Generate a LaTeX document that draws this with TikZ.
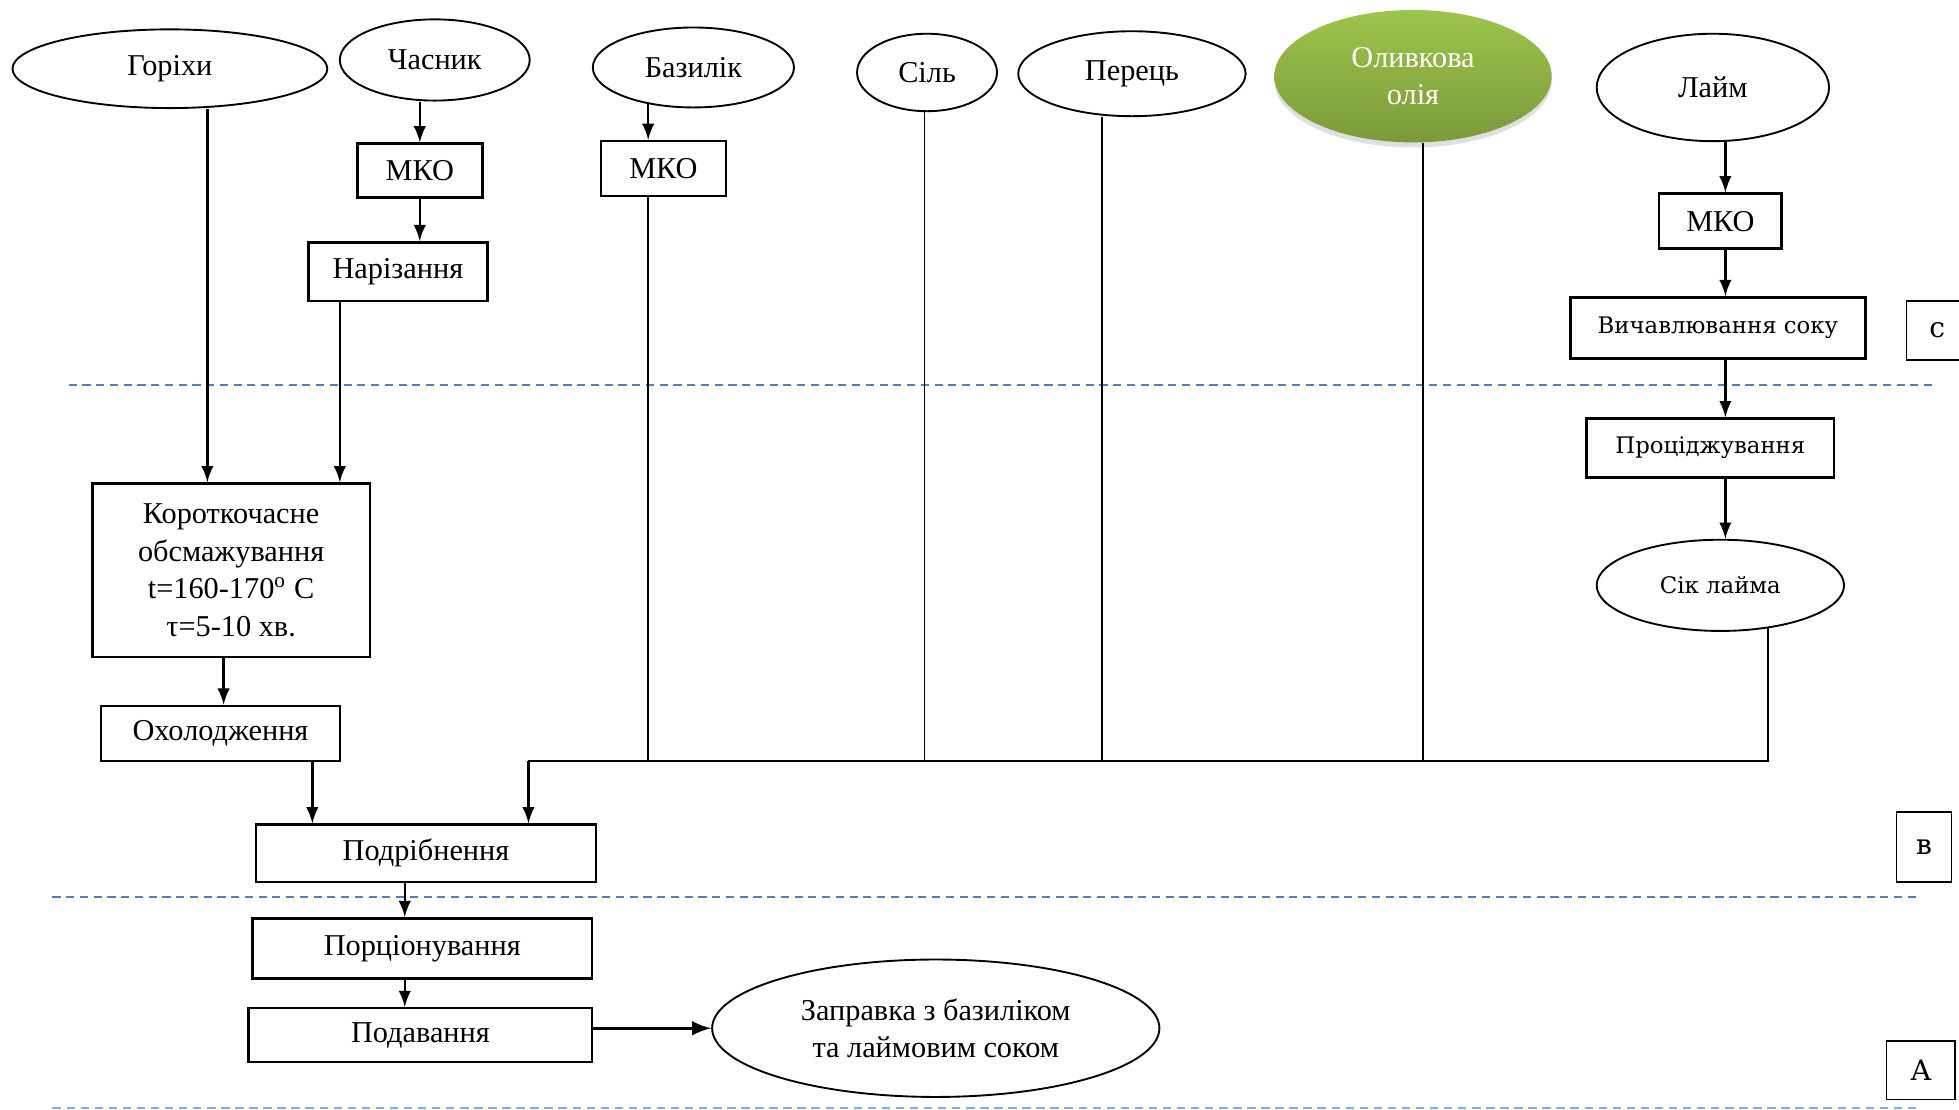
\documentclass[tikz,border=0pt]{standalone}
\usepackage{fontspec}
\setmainfont{Liberation Serif}
\newfontfamily\wideserif{DejaVu Serif}
\usepackage{tikz}
\usetikzlibrary{shapes,arrows,positioning,calc,shadows}
\usepackage{xcolor}
\definecolor{sepblue}{HTML}{4F81BD}
\definecolor{sepgray}{HTML}{8EA9D8}
\definecolor{oliveTop}{HTML}{9DC54B}
\definecolor{oliveBot}{HTML}{7A9A3A}

\begin{document}
\begin{tikzpicture}[x=0.4pt,y=0.4pt,
    font=\fontsize{9.7}{12}\selectfont,
    ingr/.style={draw, ellipse, line width=0.6pt, inner sep=0pt},
    proc/.style={draw, rectangle, line width=0.8pt, inner sep=0pt},
    widetxt/.style={font=\wideserif\fontsize{7.3}{9}\selectfont},
    tag/.style={draw, rectangle, line width=0.5pt, inner sep=0pt, font=\wideserif\fontsize{9}{11}\selectfont},
    arr/.style={-latex, line width=0.8pt},
    feed/.style={line width=0.5pt},
    sep/.style={sepblue, line width=0.6pt, dash pattern=on 2.6pt off 1.8pt}]
    \useasboundingbox (0,0) rectangle (1568,-888);

    % ingredients
    \node[ingr, minimum width=100.8pt, minimum height=25.2pt] (gorikhy) at (136,-55) {Горіхи};
    \node[ingr, minimum width=60.8pt, minimum height=26pt] (chasnyk) at (348,-48) {Часник};
    \node[ingr, minimum width=64.4pt, minimum height=25.6pt] (bazylik) at (555,-54) {Базилік};
    \node[ingr, minimum width=44.8pt, minimum height=24.8pt] (sil) at (742,-58) {Сіль};
    \node[ingr, minimum width=72.8pt, minimum height=27.2pt] (perets) at (906,-59) {Перець};
    \node[ingr, draw=none, minimum width=88.8pt, minimum height=42.4pt, align=center, text=white,
        top color=oliveTop, bottom color=oliveBot,
        drop shadow={shadow xshift=0pt, shadow yshift=-1.6pt, opacity=0.25}] (oliia) at (1131,-61) {Оливкова\\олія};
    \node[ingr, minimum width=74.4pt, minimum height=34.4pt] (laim) at (1371,-70) {Лайм};

    % upper part
    \node[proc, minimum width=40pt, minimum height=17.2pt] (mko1) at (336,-136.5) {МКО};
    \node[proc, minimum width=57.2pt, minimum height=18.8pt] (narizannia) at (318.5,-217.5) {Нарізання};
    \node[proc, minimum width=40pt, minimum height=17.6pt] (mko2) at (531,-135) {МКО};
    \node[proc, minimum width=39.2pt, minimum height=17.6pt] (mko3) at (1377,-177) {МКО};
    \node[proc, widetxt, minimum width=94.4pt, minimum height=19.6pt] (vychavl) at (1375,-262.5) {Вичавлювання соку};
    \node[proc, widetxt, minimum width=79.2pt, minimum height=18.8pt] (protsidzh) at (1369,-358.5) {Проціджування};
    \node[ingr, widetxt, minimum width=79.2pt, minimum height=29.2pt] (sik) at (1377,-468.5) {Сік лайма};

    \node[proc, minimum width=88.8pt, minimum height=55.6pt, align=center] (obsmazh) at (185,-456.5)
        {Короткочасне\\обсмажування\\t=160-170\textsuperscript{o} C\\τ=5-10 хв.};
    \node[proc, minimum width=76.4pt, minimum height=17.6pt] (okholodzh) at (176.5,-587) {Охолодження};
    \node[proc, minimum width=108.8pt, minimum height=18.4pt] (podribn) at (341,-683) {Подрібнення};
    \node[proc, minimum width=108.8pt, minimum height=19.2pt] (portsion) at (338,-759) {Порціонування};
    \node[proc, minimum width=110pt, minimum height=17.2pt] (podav) at (336.5,-828.5) {Подавання};
    \node[ingr, minimum width=143.2pt, minimum height=44pt, align=center] (zapravka) at (749,-823)
        {Заправка з базиліком\\та лаймовим соком};

    % stage tags
    \node[tag, minimum width=19.6pt, minimum height=18.8pt] (tagC) at (1550.5,-264.5) {с};
    \node[tag, minimum width=17.6pt, minimum height=22.4pt] (tagB) at (1540,-678) {в};
    \node[tag, minimum width=22pt, minimum height=18.8pt] (tagA) at (1537.5,-856.5) {А};

    \draw[sep] (55,-308) -- (1550,-308);
    \draw[sep] (42,-718) -- (1537,-718);
    \draw[sepgray, line width=0.45pt, dash pattern=on 2.7pt off 1.8pt] (42,-887) -- (1537,-887);

    \coordinate (lx) at (1381,0);
    \coordinate (bus) at (423,-609);

    \draw[arr] (gorikhy.south -| 166,0) -- (obsmazh.north -| 166,0);
    \draw[arr] (chasnyk.south -| mko1.north) -- (mko1.north);
    \draw[arr] (mko1.south) -- (mko1.south |- narizannia.north);
    \draw[arr] (narizannia.south -| 272,0) -- (obsmazh.north -| 272,0);
    \draw[arr] (bazylik.-141) -- (mko2.north -| bazylik.-141);
    \draw[line width=0.8pt] (mko2.south -| bazylik.-141) -- (bus -| bazylik.-141);
    \draw[feed] (sil.south -| 740,0) -- (bus -| 740,0);
    \draw[feed] (perets.south -| 882,0) -- (bus -| 882,0);
    \draw[feed] (oliia.south -| 1139,0) -- (bus -| 1139,0);

    \draw[arr] (laim.south -| lx) -- (mko3.north -| lx);
    \draw[arr] (mko3.south -| lx) -- (vychavl.north -| lx);
    \draw[arr] (vychavl.south -| lx) -- (protsidzh.north -| lx);
    \draw[arr] (protsidzh.south -| lx) -- (sik.north -| lx);
    \draw[feed] (sik.-42.5) |- (bus);
    \draw[arr] (bus) -- (podribn.north -| bus);

    \draw[arr] (obsmazh.south -| 179,0) -- (okholodzh.north -| 179,0);
    \draw[arr] (okholodzh.south -| 250,0) -- (podribn.north -| 250,0);
    \draw[arr] (podribn.south -| 324,0) -- (portsion.north -| 324,0);
    \draw[arr] (portsion.south -| 324,0) -- (podav.north -| 324,0);
    \draw[arr, line width=1.1pt] (podav.east |- zapravka.west) -- (zapravka.west);
\end{tikzpicture}
\end{document}
